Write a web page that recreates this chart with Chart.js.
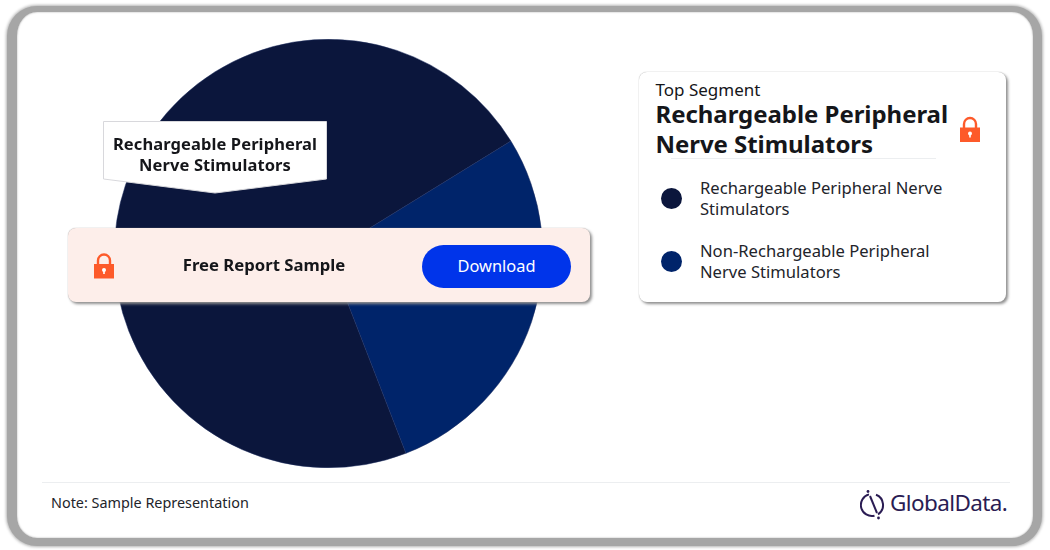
<!DOCTYPE html>
<html>
<head>
<meta charset="utf-8">
<script src="https://cdn.jsdelivr.net/npm/chart.js@4"></script>
<style>
  html, body { margin: 0; padding: 0; background: #fff; }
  body { width: 1050px; height: 550px; position: relative; overflow: hidden; font-family: "Noto Sans", sans-serif; color: #15161a; }
  .abs { position: absolute; }
  #frame { left: 7px; top: 6px; width: 1016px; height: 526px; border: solid #a6a6a6; border-width: 6px 9px 8px 10px; border-radius: 30px; box-shadow: 0 0 3px 1px #b4b4b4, inset 0 0 2px #a6a6a6; background: #fff; }
  #pie-wrap { left: 113.5px; top: 38.5px; width: 429px; height: 429px; }
  #callout { left: 100px; top: 118px; }
  #callout-text { left: 103px; top: 133px; width: 224px; text-align: center; font-weight: 700; font-size: 16.5px; line-height: 21px; letter-spacing: 0.1px; }
  #band { left: 68px; top: 228px; width: 522px; height: 74px; background: #fdeeea; border-radius: 8px; box-shadow: 0 0 1px #999, 2px 2px 3px #8f8f8f; }
  #band-text { left: 115px; top: 254px; width: 298px; text-align: center; font-weight: 700; font-size: 16.7px; line-height: 22px; }
  #button { left: 422px; top: 245px; width: 149px; height: 43px; line-height: 42px; background: #0034ea; color: #fff; border-radius: 22px; text-align: center; font-size: 16.4px; }
  #card { left: 639px; top: 72px; width: 367px; height: 230px; background: #fff; border-radius: 8px; box-shadow: 0 0 1px #999, 2px 2px 3px #8f8f8f; }
  #top-label { left: 655.5px; top: 77.5px; font-size: 17px; line-height: 23px; }
  #top-title { left: 655.5px; top: 99px; font-size: 24px; line-height: 30px; font-weight: 700; letter-spacing: -0.05px; white-space: nowrap; }
  #rule { left: 671px; top: 158px; width: 265px; height: 1px; background: #eceef0; }
  .swatch { width: 21px; height: 21px; border-radius: 50%; left: 660.5px; }
  .legend-text { left: 700px; width: 290px; font-size: 16.6px; line-height: 21px; color: #22242a; }
  #foot-rule { left: 42px; top: 482px; width: 968px; height: 1px; background: #eceef0; }
  #note { left: 51px; top: 492.5px; font-size: 14.4px; line-height: 20px; color: #22242a; }
  #brand { left: 890px; top: 488px; font-size: 22.5px; line-height: 30px; color: #2a1c53; letter-spacing: -0.6px; }
</style>
</head>
<body>
<div class="abs" id="frame"></div>
<div class="abs" id="pie-wrap"><canvas id="pie"></canvas></div>

<svg class="abs" id="callout" width="232" height="80">
  <polygon points="3.5,3.5 226.5,3.5 226.5,61 115,75 3.5,61" fill="#fff" stroke="#d8d8dc" stroke-width="1"/>
</svg>
<div class="abs" id="callout-text"></div>

<div class="abs" id="band"></div>
<svg class="abs" style="left:93px;top:253px" width="22" height="26" viewBox="0 0 22 26">
  <use href="#lock"/>
</svg>
<div class="abs" id="band-text">Free Report Sample</div>
<div class="abs" id="button">Download</div>

<div class="abs" id="card"></div>
<div class="abs" id="top-label">Top Segment</div>
<div class="abs" id="top-title"></div>
<svg class="abs" style="left:959px;top:116px" width="22" height="27" viewBox="0 0 22 26">
  <defs>
    <g id="lock">
      <path d="M5 12 V7.5 a6 6 0 0 1 12 0 V12" fill="none" stroke="#fd5a2a" stroke-width="2.4"/>
      <rect x="1" y="11" width="20" height="14.5" fill="#fd5a2a"/>
      <circle cx="11" cy="17" r="2" fill="#fff"/>
      <rect x="10.2" y="17" width="1.6" height="4" fill="#fff"/>
    </g>
  </defs>
  <use href="#lock"/>
</svg>
<div class="abs" id="rule"></div>
<div id="legend"></div>

<div class="abs" id="foot-rule"></div>
<div class="abs" id="note">Note: Sample Representation</div>
<svg class="abs" style="left:860px;top:489px" width="28" height="32" viewBox="0 0 28 32">
  <path d="M9 5.4 A11 11 0 0 0 14.5 26.7" fill="none" stroke="#2a1c53" stroke-width="2"/>
  <path d="M16 5.8 A11 11 0 0 1 18 25.3" fill="none" stroke="#2a1c53" stroke-width="2"/>
  <path d="M10 7 L17 24" fill="none" stroke="#2a1c53" stroke-width="2"/>
  <circle cx="8" cy="2.5" r="1.4" fill="#2a1c53"/>
  <circle cx="18.5" cy="29" r="1.4" fill="#2a1c53"/>
</svg>
<div class="abs" id="brand">GlobalData.</div>

<script>
// Chart data
const segments = ["Rechargeable Peripheral Nerve Stimulators", "Non-Rechargeable Peripheral Nerve Stimulators"]
const shares = [72.1, 27.9]
const colors = ["#0b163c", "#00246a"]
const legendLines = [
  ["Rechargeable Peripheral Nerve", "Stimulators"],
  ["Non-Rechargeable Peripheral", "Nerve Stimulators"],
]
const topTitleLines = ["Rechargeable Peripheral", "Nerve Stimulators"]

document.getElementById("callout-text").innerHTML = topTitleLines.join("<br>")
document.getElementById("top-title").innerHTML = topTitleLines.join("<br>")

// Legend
const legendTops = [177, 240]
const swatchTops = [187.5, 250.5]
document.getElementById("legend").innerHTML = segments
  .map(
    (name, i) => `
      <div class="abs swatch" style="top:${swatchTops[i]}px;background:${colors[i]}"></div>
      <div class="abs legend-text" style="top:${legendTops[i]}px">${legendLines[i].join("<br>")}</div>
    `,
  )
  .join("")

// Pie
new Chart(document.getElementById("pie"), {
  type: "pie",
  data: {
    labels: segments,
    datasets: [
      {
        data: shares,
        backgroundColor: colors,
        borderColor: "#1c2c5e",
        borderWidth: 0.5,
      },
    ],
  },
  options: {
    responsive: true,
    maintainAspectRatio: false,
    animation: false,
    rotation: 158.8,
    layout: { padding: 0 },
    plugins: {
      legend: { display: false },
      tooltip: { enabled: false },
    },
  },
})
</script>
</body>
</html>
